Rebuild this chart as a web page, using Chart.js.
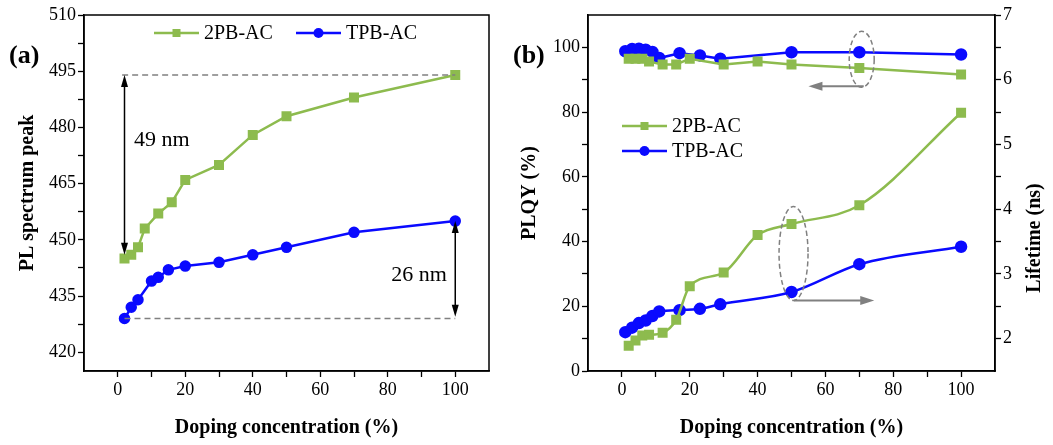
<!DOCTYPE html>
<html>
<head>
<meta charset="utf-8">
<script src="https://cdn.jsdelivr.net/npm/chart.js@4.4.1/dist/chart.umd.min.js"></script>
<style>
    body { margin: 0; background: #fff; width: 1053px; height: 445px; overflow: hidden; position: relative; }
    .panel { position: absolute; top: 0; height: 445px; }
    #wrapA { left: 0; width: 515px; }
    #wrapB { left: 505px; width: 548px; }
    .tag { position: absolute; top: 42px; font: bold 26px "Liberation Serif", serif; line-height: 1; color: #000; }
</style>
</head>
<body>
<div class="panel" id="wrapA"><canvas id="chartA" width="515" height="445"></canvas></div>
<div class="panel" id="wrapB"><canvas id="chartB" width="548" height="445"></canvas></div>
<div class="tag" style="left:9px">(a)</div>
<div class="tag" style="left:513px">(b)</div>
<script>
/* ── DADOS ── */
const xPB = [2, 4, 6, 8, 12, 16, 20, 30, 40, 50, 70, 100];
const peakPB = [445, 446, 448, 453, 457, 460, 466, 470, 478, 483, 488, 494];
const xTPBa = [2, 4, 6, 10, 12, 15, 20, 30, 40, 50, 70, 100];
const peakTPB = [429, 432, 434, 439, 440, 442, 443, 444, 446, 448, 452, 455];

const xTPBb = [1, 3, 5, 7, 9, 11, 17, 23, 29, 50, 70, 100];
const plqyPB = [96.5, 96.5, 96.5, 95.6, 94.7, 94.7, 96.5, 94.7, 95.6, 94.7, 93.6, 91.6];
const plqyTPB = [98.8, 99.5, 99.6, 99.3, 98.6, 96.7, 98.2, 97.5, 96.5, 98.5, 98.5, 97.8];
const lifePB = [1.89, 1.97, 2.05, 2.06, 2.09, 2.29, 2.81, 3.02, 3.60, 3.77, 4.06, 5.49];
const lifeTPB = [2.10, 2.17, 2.24, 2.28, 2.35, 2.42, 2.44, 2.46, 2.53, 2.72, 3.15, 3.42];

const xTicks = [0, 10, 20, 30, 40, 50, 60, 70, 80, 90, 100];
const xLabels = [0, 20, 40, 60, 80, 100];
const peakTicks = [420, 427.5, 435, 442.5, 450, 457.5, 465, 472.5, 480, 487.5, 495, 502.5, 510];
const peakLabels = [420, 435, 450, 465, 480, 495, 510];
const plqyTicks = [0, 10, 20, 30, 40, 50, 60, 70, 80, 90, 100];
const plqyLabels = [0, 20, 40, 60, 80, 100];
const lifeTicks = [2, 2.5, 3, 3.5, 4, 4.5, 5, 5.5, 6, 6.5, 7];
const lifeLabels = [2, 3, 4, 5, 6, 7];

const GREEN = '#8dbb4e';
const BLUE = '#0a0aff';
const SERIF = '"Liberation Serif", "Times New Roman", serif';

const pts = (xs, ys) => xs.map((x, i) => ({ x, y: ys[i] }));

/* ── HELPERS ── */
function axis(min, max, ticks, labels, extra) {
    return Object.assign({
        type: 'linear',
        min, max,
        afterBuildTicks: s => { s.ticks = ticks.map(v => ({ value: v })); },
        ticks: {
            callback: v => labels.includes(v) ? v : '',
            color: '#000',
            font: { family: SERIF, size: 18 },
            padding: 2,
            autoSkip: false,
            maxRotation: 0
        },
        grid: { drawOnChartArea: false, tickLength: 6, tickColor: '#000', tickWidth: 1.3 },
        border: { color: '#000', width: 1.5 }
    }, extra);
}

function title(text, pad) {
    return { display: true, text, color: '#000', font: { family: SERIF, size: 20, weight: 'bold' }, padding: pad };
}

function arrow(ctx, x1, y1, x2, y2, color, both, L, W, lw) {
    ctx.save();
    ctx.strokeStyle = color;
    ctx.fillStyle = color;
    ctx.lineWidth = lw;
    const a = Math.atan2(y2 - y1, x2 - x1);
    const head = (x, y, ang) => {
        ctx.beginPath();
        ctx.moveTo(x, y);
        ctx.lineTo(x - L * Math.cos(ang) + W * Math.sin(ang), y - L * Math.sin(ang) - W * Math.cos(ang));
        ctx.lineTo(x - L * Math.cos(ang) - W * Math.sin(ang), y - L * Math.sin(ang) + W * Math.cos(ang));
        ctx.closePath();
        ctx.fill();
    };
    ctx.beginPath();
    ctx.moveTo(x1 + (both ? L * 0.6 * Math.cos(a) : 0), y1 + (both ? L * 0.6 * Math.sin(a) : 0));
    ctx.lineTo(x2 - L * 0.6 * Math.cos(a), y2 - L * 0.6 * Math.sin(a));
    ctx.stroke();
    head(x2, y2, a);
    if (both) head(x1, y1, a + Math.PI);
    ctx.restore();
}

function dashed(ctx, x1, y1, x2, y2) {
    ctx.save();
    ctx.strokeStyle = '#808080';
    ctx.lineWidth = 1.5;
    ctx.setLineDash([6, 4]);
    ctx.beginPath();
    ctx.moveTo(x1, y1);
    ctx.lineTo(x2, y2);
    ctx.stroke();
    ctx.restore();
}

function ellipse(ctx, cx, cy, rx, ry) {
    ctx.save();
    ctx.strokeStyle = '#808080';
    ctx.lineWidth = 1.5;
    ctx.setLineDash([5, 3]);
    ctx.beginPath();
    ctx.ellipse(cx, cy, rx, ry, 0, 0, Math.PI * 2);
    ctx.stroke();
    ctx.restore();
}

function legendItem(ctx, x, y, color, style, label) {
    ctx.save();
    ctx.strokeStyle = color;
    ctx.fillStyle = color;
    ctx.lineWidth = 2.5;
    ctx.beginPath();
    ctx.moveTo(x, y);
    ctx.lineTo(x + 45, y);
    ctx.stroke();
    if (style === 'rect') {
        ctx.fillRect(x + 22.5 - 4, y - 4, 8, 8);
    } else {
        ctx.beginPath();
        ctx.arc(x + 22.5, y, 5, 0, Math.PI * 2);
        ctx.fill();
    }
    ctx.fillStyle = '#000';
    ctx.font = '20px ' + SERIF;
    ctx.textBaseline = 'middle';
    ctx.fillText(label, x + 50, y + 1);
    ctx.restore();
}

const frame = {
    id: 'frame',
    afterDraw(chart) {
        const { ctx, chartArea: a } = chart;
        ctx.save();
        ctx.strokeStyle = '#000';
        ctx.lineWidth = 1.5;
        ctx.strokeRect(a.left, a.top, a.right - a.left, a.bottom - a.top);
        ctx.restore();
    }
};

/* ── PAINEL (a) ── */
const notesA = {
    id: 'notesA',
    afterDatasetsDraw(chart) {
        const { ctx } = chart;
        const x = chart.scales.x, y = chart.scales.y;
        dashed(ctx, x.getPixelForValue(1.3), y.getPixelForValue(494), x.getPixelForValue(100), y.getPixelForValue(494));
        dashed(ctx, x.getPixelForValue(2), y.getPixelForValue(429), x.getPixelForValue(100), y.getPixelForValue(429));
        arrow(ctx, x.getPixelForValue(2), y.getPixelForValue(494), x.getPixelForValue(2), y.getPixelForValue(446), '#000', true, 12, 3.5, 1.5);
        arrow(ctx, x.getPixelForValue(100), y.getPixelForValue(455), x.getPixelForValue(100), y.getPixelForValue(429.5), '#000', true, 12, 3.5, 1.5);
        ctx.save();
        ctx.fillStyle = '#000';
        ctx.font = '22px ' + SERIF;
        ctx.textBaseline = 'middle';
        ctx.textAlign = 'left';
        ctx.fillText('49 nm', x.getPixelForValue(4.8), y.getPixelForValue(476.6));
        ctx.textAlign = 'right';
        ctx.fillText('26 nm', x.getPixelForValue(97.5), y.getPixelForValue(440.6));
        ctx.restore();
        legendItem(ctx, 154, 33, GREEN, 'rect', '2PB-AC');
        legendItem(ctx, 296, 33, BLUE, 'circle', 'TPB-AC');
    }
};

new Chart(document.getElementById('chartA'), {
    type: 'line',
    data: {
        datasets: [{
            label: '2PB-AC',
            data: pts(xPB, peakPB),
            borderColor: GREEN,
            backgroundColor: GREEN,
            borderWidth: 2.5,
            pointStyle: 'rect',
            pointRadius: 5.3,
            tension: 0
        }, {
            label: 'TPB-AC',
            data: pts(xTPBa, peakTPB),
            borderColor: BLUE,
            backgroundColor: BLUE,
            borderWidth: 2.5,
            pointStyle: 'circle',
            pointRadius: 4.5,
            tension: 0
        }]
    },
    options: {
        responsive: false,
        animation: false,
        layout: { padding: { top: 15, right: 26, left: 0, bottom: 0 } },
        plugins: { legend: { display: false }, tooltip: { enabled: false } },
        scales: {
            x: axis(-10, 110, xTicks, xLabels, {
                title: title('Doping concentration (%)', { top: 5, bottom: 5 }),
                afterFit: s => { s.height = 74; }
            }),
            y: axis(415, 510, peakTicks, peakLabels, {
                title: title('PL spectrum peak', { top: 16, bottom: 0 }),
                afterFit: s => { s.width = 84; }
            })
        }
    },
    plugins: [frame, notesA]
});

/* ── PAINEL (b) ── */
const notesB = {
    id: 'notesB',
    afterDatasetsDraw(chart) {
        const { ctx } = chart;
        const x = chart.scales.x, y = chart.scales.y;
        ellipse(ctx, x.getPixelForValue(70.7), y.getPixelForValue(96.3), 12.5, 28);
        arrow(ctx, x.getPixelForValue(71.3), y.getPixelForValue(88), x.getPixelForValue(55), y.getPixelForValue(88), '#808080', false, 14, 4.5, 2);
        ellipse(ctx, x.getPixelForValue(50.6), y.getPixelForValue(36.3), 14.5, 47);
        arrow(ctx, x.getPixelForValue(50.7), y.getPixelForValue(21.8), x.getPixelForValue(74.4), y.getPixelForValue(21.8), '#808080', false, 14, 4.5, 2);
        legendItem(ctx, 117, 126, GREEN, 'rect', '2PB-AC');
        legendItem(ctx, 117, 151, BLUE, 'circle', 'TPB-AC');
    },
    afterDraw(chart) {
        // título do eixo direito, lido de baixo para cima como no original
        const { ctx } = chart;
        ctx.save();
        ctx.translate(530, 238);
        ctx.rotate(-Math.PI / 2);
        ctx.fillStyle = '#000';
        ctx.font = 'bold 20px ' + SERIF;
        ctx.textAlign = 'center';
        ctx.textBaseline = 'middle';
        ctx.fillText('Lifetime (ns)', 0, 0);
        ctx.restore();
    }
};

new Chart(document.getElementById('chartB'), {
    type: 'line',
    data: {
        datasets: [{
            label: '2PB-AC',
            data: pts(xPB, plqyPB),
            yAxisID: 'y',
            borderColor: GREEN,
            backgroundColor: GREEN,
            borderWidth: 2.5,
            pointStyle: 'rect',
            pointRadius: 5.3,
            tension: 0
        }, {
            label: 'TPB-AC',
            data: pts(xTPBb, plqyTPB),
            yAxisID: 'y',
            borderColor: BLUE,
            backgroundColor: BLUE,
            borderWidth: 2.5,
            pointStyle: 'circle',
            pointRadius: 5,
            tension: 0
        }, {
            label: '2PB-AC lifetime',
            data: pts(xPB, lifePB),
            yAxisID: 'y1',
            borderColor: GREEN,
            backgroundColor: GREEN,
            borderWidth: 2.5,
            pointStyle: 'rect',
            pointRadius: 5.3,
            cubicInterpolationMode: 'monotone'
        }, {
            label: 'TPB-AC lifetime',
            data: pts(xTPBb, lifeTPB),
            yAxisID: 'y1',
            borderColor: BLUE,
            backgroundColor: BLUE,
            borderWidth: 2.5,
            pointStyle: 'circle',
            pointRadius: 5,
            cubicInterpolationMode: 'monotone'
        }]
    },
    options: {
        responsive: false,
        animation: false,
        layout: { padding: { top: 15, right: 0, left: 0, bottom: 0 } },
        plugins: { legend: { display: false }, tooltip: { enabled: false } },
        scales: {
            x: axis(-10, 110, xTicks, xLabels, {
                title: title('Doping concentration (%)', { top: 5, bottom: 5 }),
                afterFit: s => { s.height = 74; }
            }),
            y: axis(0, 110, plqyTicks, plqyLabels, {
                position: 'left',
                title: title('PLQY (%)', { top: 13, bottom: 0 }),
                afterFit: s => { s.width = 83; }
            }),
            y1: axis(1.5, 7, lifeTicks, lifeLabels, {
                position: 'right',
                afterFit: s => { s.width = 58; }
            })
        }
    },
    plugins: [frame, notesB]
});
</script>
</body>
</html>
